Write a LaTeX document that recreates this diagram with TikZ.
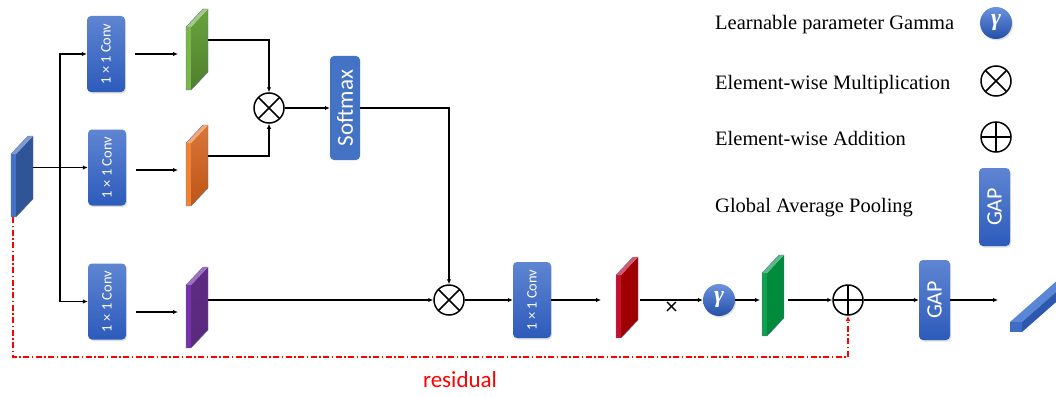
\documentclass[tikz,border=0pt]{standalone}
\usepackage{fontspec}
\setmainfont{Liberation Serif}
\newfontfamily\carl{Carlito}
\usepackage{graphicx}
\usetikzlibrary{arrows.meta,shadows}

\definecolor{convtop}{HTML}{5F85D2}
\definecolor{convbot}{HTML}{2D5BBB}
\definecolor{softc}{HTML}{4472C4}
\definecolor{gtop}{HTML}{6A92DE}
\definecolor{gbot}{HTML}{2550A8}
\definecolor{resred}{HTML}{FF0000}
\definecolor{edgec}{HTML}{6070A0}
\definecolor{inS}{HTML}{4472C4}
\definecolor{inF}{HTML}{2F5597}
\definecolor{g1S}{HTML}{7AB648}
\definecolor{g1T}{HTML}{6AA33E}
\definecolor{g1B}{HTML}{4E7F2C}
\definecolor{oS}{HTML}{F08434}
\definecolor{oT}{HTML}{D8763A}
\definecolor{oB}{HTML}{BD5515}
\definecolor{pS}{HTML}{7434A8}
\definecolor{pT}{HTML}{5E2C82}
\definecolor{pB}{HTML}{5A2A7E}
\definecolor{rS}{HTML}{C8102E}
\definecolor{rF}{HTML}{9E0000}
\definecolor{g2S}{HTML}{10A050}
\definecolor{g2F}{HTML}{008A3C}
\definecolor{barT}{HTML}{5A86D6}
\definecolor{barE}{HTML}{3F6DC6}
\definecolor{barR}{HTML}{2D58AE}

% plate: name, left x, top y of front strip, strip colour, face top colour, face bottom colour
\newcommand{\plate}[6]{%
  \fill[#4] (#2,#3) rectangle (#2+5,#3+63);
  \shade[top color=#5, bottom color=#6] (#2+5,#3) -- (#2+22,#3-18) -- (#2+22,#3+45) -- (#2+5,#3+63) -- cycle;
  \fill[#4!70!white] (#2,#3) -- (#2+17,#3-18) -- (#2+22,#3-18) -- (#2+5,#3) -- cycle;
  \draw[edgec, line width=0.4pt] (#2,#3) -- (#2+17,#3-18) -- (#2+22,#3-18) -- (#2+22,#3+45) -- (#2+5,#3+63) -- (#2,#3+63) -- cycle;
  \node[inner sep=0, minimum width=22pt, minimum height=81pt, anchor=north west] (#1) at (#2,#3-18) {};
  \coordinate (#1in) at (#2-8,#3+27);
  \coordinate (#1out) at (#2+22,#3+13);
}
\newcommand{\gsym}{{\fontsize{24}{24}\selectfont\bfseries\itshape γ}}

\begin{document}
\begin{tikzpicture}[x=1pt,y=-1pt,
  ln/.style={line width=1.3pt, black},
  arr/.style={ln, -{Latex[length=5pt,width=4.5pt]}},
  res/.style={resred, line width=1.4pt, dash pattern=on 6pt off 2.5pt on 1.5pt off 2.5pt, -{Latex[length=5pt,width=4.5pt]}},
  conv/.style={rounded corners=4pt, top color=convtop, bottom color=convbot, minimum width=38pt, minimum height=76pt, inner sep=0, text=white, font=\carl\fontsize{14.5}{15}\selectfont, drop shadow={shadow xshift=1pt, shadow yshift=-1.5pt, opacity=0.25}},
  soft/.style={rounded corners=4pt, fill=softc, minimum width=30pt, minimum height=104pt, inner sep=0, text=white, font=\carl\fontsize{23}{24}\selectfont},
  gapbox/.style={rounded corners=4pt, top color=convtop, bottom color=convbot, minimum width=31pt, minimum height=80pt, inner sep=0, text=white, font=\carl\fontsize{22}{24}\selectfont, drop shadow={shadow xshift=1pt, shadow yshift=-1.5pt, opacity=0.25}},
  gam/.style={circle, minimum size=32pt, inner sep=0, top color=gtop, bottom color=gbot, text=white, drop shadow={shadow xshift=1pt, shadow yshift=-1.5pt, opacity=0.25}},
  mult/.style={circle, draw, line width=1.5pt, minimum size=30pt, inner sep=0,
    path picture={\draw[line width=1.5pt] (path picture bounding box.north west) -- (path picture bounding box.south east) (path picture bounding box.north east) -- (path picture bounding box.south west);}},
  add/.style={circle, draw, line width=1.5pt, minimum size=30pt, inner sep=0,
    path picture={\draw[line width=1.5pt] (path picture bounding box.north) -- (path picture bounding box.south) (path picture bounding box.west) -- (path picture bounding box.east);}},
  legend/.style={anchor=base west, inner sep=0, font=\fontsize{20.5}{22}\selectfont}
]
\useasboundingbox (0,0) rectangle (1056,396);
\fill[white] (0,0) rectangle (1056,396);

% feature maps
\plate{I}{11}{154}{inS}{inF}{inF}
\plate{G1}{186}{27}{g1S}{g1T}{g1B}
\plate{O}{186}{143}{oS}{oT}{oB}
\plate{P}{186}{285}{pS}{pT}{pB}
\plate{R}{616}{275}{rS}{rF}{rF}
\plate{G2}{762}{273}{g2S}{g2F}{g2F}

% output vector
\fill[barT] (1010,322) -- (1022,322) -- (1072,278) -- (1060,278) -- cycle;
\fill[barR] (1022,322) -- (1022,332) -- (1072,288) -- (1072,278) -- cycle;
\fill[barE] (1010,322) rectangle (1022,332);
\coordinate (outtip) at (998,300);

% blocks
\node[conv] (C1) at (106,54) {\rotatebox{90}{1 × 1 Conv}};
\node[conv] (C2) at (107,167.5) {\rotatebox{90}{1 × 1 Conv}};
\node[conv] (C3) at (107,301.5) {\rotatebox{90}{1 × 1 Conv}};
\node[conv] (C4) at (532,300) {\rotatebox{90}{1 × 1 Conv}};
\node[soft] (S) at (345,108) {\rotatebox{90}{Softmax}};
\node[mult] (M1) at (269,108) {};
\node[mult] (M2) at (449,300) {};
\node[gam] (Gm) at (719,300) {\gsym};
\node[add] (A) at (848,300) {};
\node[gapbox] (GAP) at (934.5,300) {\rotatebox{90}{GAP}};

% connectors
\coordinate (J) at (60,167.5);
\draw[arr] (I.east |- C2.west) -- (C2.west);
\draw[arr] (J) |- (C1.west);
\draw[arr] (J) |- (C3.west);
\draw[arr] ([xshift=10pt]C1.east |- G1in) -- (G1in);
\draw[arr] ([xshift=10pt]C2.east |- Oin) -- (Oin);
\draw[arr] ([xshift=10pt]C3.east |- Pin) -- (Pin);
\draw[arr] (G1out) -| (M1.north);
\draw[arr] (Oout) -| (M1.south);
\draw[arr] (M1.east) -- (S.west);
\draw[arr] (S.east) -| (M2.north);
\draw[arr] (P.east |- M2.west) -- (M2.west);
\draw[arr] (M2.east) -- (C4.west);
\draw[arr] (C4.east) -- ([xshift=-15pt]R.west |- C4.east);
\draw[arr] ([xshift=2pt]R.east |- Gm.west) -- (Gm.west) node[midway, below, inner sep=1pt, font=\carl\fontsize{24}{24}\selectfont] {×};
\draw[arr] (Gm.east) -- ([xshift=-2pt]G2.west |- Gm.east);
\draw[arr] ([xshift=4pt]G2.east |- A.west) -- (A.west);
\draw[arr] (A.east) -- (GAP.west);
\draw[arr] (GAP.east) -- (outtip);

% residual
\coordinate (Rlow) at (0,357);
\draw[res] ([xshift=2pt]I.south west) |- (A.south |- Rlow) -- (A.south);
\node[text=resred, anchor=base, inner sep=0, font=\carl\fontsize{23}{24}\selectfont] (resl) at (460,387) {residual};

% legend
\node[legend] (L1) at (715,30) {Learnable parameter Gamma};
\node[legend] (L2) at (715,89) {Element-wise Multiplication};
\node[legend] (L3) at (715,145) {Element-wise Addition};
\node[legend] (L4) at (715,212) {Global Average Pooling};
\node[gam] (Lg) at (996,23) {\gsym};
\node[mult] (Lm) at (996,81) {};
\node[add] (La) at (996,137) {};
\node[gapbox, minimum height=78pt] (Lgap) at (994.5,207) {\rotatebox{90}{GAP}};
\end{tikzpicture}
\end{document}
